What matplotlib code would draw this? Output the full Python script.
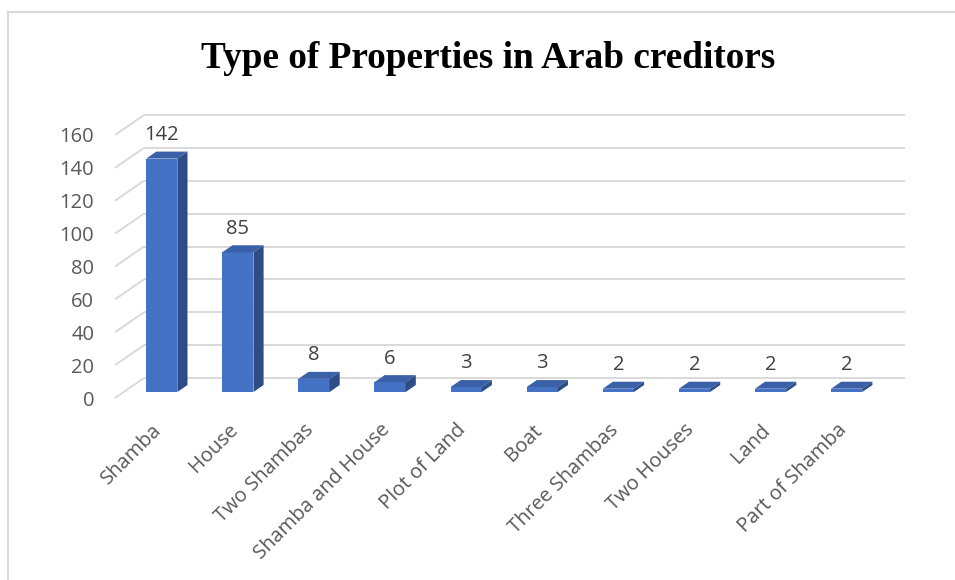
import matplotlib
matplotlib.use("Agg")
import matplotlib.pyplot as plt
from matplotlib.patches import Polygon
from matplotlib.lines import Line2D

categories = ["Shamba", "House", "Two Shambas", "Shamba and House", "Plot of Land",
              "Boat", "Three Shambas", "Two Houses", "Land", "Part of Shamba"]
counts = [142, 85, 8, 6, 3, 3, 2, 2, 2, 2]
yticks = [0, 20, 40, 60, 80, 100, 120, 140, 160]

W, H = 955, 580
fig = plt.figure(figsize=(W / 100, H / 100), dpi=100)
fig.patch.set_facecolor("white")

# plot area (front floor edge) in pixels
left, right, top, bottom = 115, 876, 135, 398
ax = fig.add_axes([left / W, (H - bottom) / H, (right - left) / W, (bottom - top) / H])
ax.set_xlim(-0.5, len(categories) - 0.5)
ax.set_ylim(0, 160)
ax.set_facecolor("none")
for s in ax.spines.values():
    s.set_visible(False)

# oblique depth of the 3d box, in data units
px_x = (right - left) / len(categories)
px_y = (bottom - top) / 160
DX = 29 / px_x
DY = 20 / px_y
f0, f1 = 0.30, 0.65
bw = 0.41

grid_c = "#d9d9d9"
x_lo, x_hi = -0.5, len(categories) - 0.5
for t in yticks:
    # back wall line and side wall diagonal
    ax.plot([x_lo + DX, x_hi + DX], [t + DY, t + DY], color=grid_c, lw=1.4,
            clip_on=False, zorder=0, solid_capstyle="butt")
    ax.plot([x_lo, x_lo + DX], [t, t + DY], color=grid_c, lw=1.4,
            clip_on=False, zorder=0, solid_capstyle="butt")

front_c, top_c, side_c = "#4472C4", "#3A60A8", "#2E4C86"
xs = [i + DX * f0 for i in range(len(categories))]
ox, oy = DX * (f1 - f0), DY * (f1 - f0)
base = DY * f0
ax.bar(xs, counts, width=bw, bottom=base, color=front_c, zorder=3, clip_on=False)
for x, v in zip(xs, counts):
    x0, x1 = x - bw / 2, x + bw / 2
    h = base + v
    ax.add_patch(Polygon([(x0, h), (x1, h), (x1 + ox, h + oy), (x0 + ox, h + oy)],
                         closed=True, fc=top_c, ec="none", zorder=3, clip_on=False))
    ax.add_patch(Polygon([(x1, base), (x1, h), (x1 + ox, h + oy), (x1 + ox, base + oy)],
                         closed=True, fc=side_c, ec="none", zorder=3, clip_on=False))
    ax.annotate(str(v), (x, h), xytext=(0, 17), textcoords="offset points",
                ha="center", va="center", fontsize=14.5, color="#404040",
                family="Open Sans")

ax.set_yticks(yticks)
ax.set_yticklabels([str(t) for t in yticks], family="Open Sans", fontsize=14.5,
                   color="#595959")
ax.tick_params(axis="y", length=0, pad=15)
ax.set_xticks([i - 0.02 for i in range(len(categories))])
ax.set_xticklabels(categories, rotation=45, ha="right", rotation_mode="anchor",
                   family="Open Sans", fontsize=14.5, color="#595959")
ax.tick_params(axis="x", length=0, pad=16)

fig.text(488 / W, 1 - 68 / H, "Type of Properties in Arab creditors",
         ha="center", va="baseline", fontsize=26.8, fontweight="bold",
         family="Liberation Serif", color="black")

# chart area border
fig.add_artist(Line2D([8 / W, 1], [1 - 12 / H, 1 - 12 / H], color=grid_c, lw=1.5,
                      transform=fig.transFigure))
fig.add_artist(Line2D([8 / W, 8 / W], [0, 1 - 12 / H], color=grid_c, lw=1.5,
                      transform=fig.transFigure))

fig.savefig("out.png", dpi=100)
